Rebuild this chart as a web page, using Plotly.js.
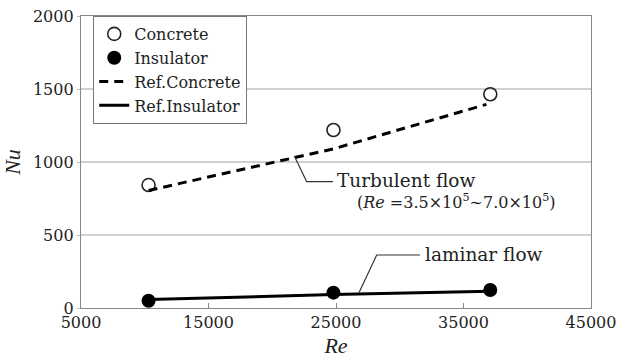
<!DOCTYPE html>
<html><head><meta charset="utf-8">
<script src="https://cdn.plot.ly/plotly-3.0.1.min.js"></script>
<style>html,body{margin:0;padding:0;background:#fff}#chart{width:625px;height:364px}</style>
</head><body><div id="chart"></div>
<script>
const reConcrete = [10300, 24800, 37100];
const nuConcrete = [842, 1219, 1464];
const reInsulator = [10300, 24800, 37100];
const nuInsulator = [50, 105, 123];
const reRefConcrete = [10300, 24800, 36800];
const nuRefConcrete = [805, 1090, 1395];
const reRefInsulator = [10300, 24800, 37100];
const nuRefInsulator = [58, 92, 115];
const xTicks = [5000, 15000, 25000, 35000, 45000];
const yTicks = [0, 500, 1000, 1500, 2000];

const F = 'DejaVu Serif';
const FT = 'Liberation Serif';
const traces = [
  {x: reConcrete, y: nuConcrete, name: 'Concrete', mode: 'markers', type: 'scatter',
   marker: {symbol: 'circle-open', size: 13, color: '#222', line: {width: 1.6, color: '#222'}}},
  {x: reInsulator, y: nuInsulator, name: 'Insulator', mode: 'markers', type: 'scatter',
   marker: {symbol: 'circle', size: 14, color: '#000'}},
  {x: reRefConcrete, y: nuRefConcrete, name: 'Ref.Concrete', mode: 'lines', type: 'scatter',
   line: {color: '#000', width: 3, dash: '9px,6px'}},
  {x: reRefInsulator, y: nuRefInsulator, name: 'Ref.Insulator', mode: 'lines', type: 'scatter',
   line: {color: '#000', width: 3}}
];
const layout = {
  width: 625, height: 364,
  margin: {l: 81, r: 34, t: 16, b: 56},
  paper_bgcolor: '#fff', plot_bgcolor: '#fff',
  font: {family: F, size: 16, color: '#222'},
  showlegend: true,
  legend: {x: 0.024, y: 1.0, xanchor: 'left', yanchor: 'top', bgcolor: '#fff',
    bordercolor: '#777', borderwidth: 1, font: {family: F, size: 16, color: '#222'},
    itemwidth: 30, tracegroupgap: 0},
  xaxis: {range: [5000, 45000], tickvals: xTicks, ticktext: xTicks.map(String),
    tickfont: {family: F, size: 16, color: '#222'},
    showgrid: false, zeroline: false, showline: true, mirror: true, linecolor: '#888', linewidth: 1.2,
    ticks: 'inside', ticklen: 5, tickcolor: '#888',
    title: {text: '<i>Re</i>', font: {family: FT, size: 22, color: '#222'}, standoff: 6}},
  yaxis: {range: [0, 2000], tickvals: yTicks, ticktext: yTicks.map(String),
    tickfont: {family: F, size: 16, color: '#222'},
    showgrid: true, gridcolor: '#d0d0d0', gridwidth: 1.2, zeroline: false,
    showline: true, mirror: true, linecolor: '#888', linewidth: 1.2,
    ticks: 'outside', ticklen: 3, tickcolor: '#bbb',
    title: {text: '<i>Nu</i>', font: {family: FT, size: 22, color: '#222'}, standoff: 8}},
  shapes: [
    {type: 'path', xref: 'x', yref: 'y', path: 'M 21730 1041 L 22700 865 L 24765 865',
     line: {color: '#333', width: 1.2}},
    {type: 'path', xref: 'x', yref: 'y', path: 'M 26800 105 L 28190 363 L 31590 363',
     line: {color: '#333', width: 1.2}}
  ],
  annotations: [
    {x: 24900, y: 870, xref: 'x', yref: 'y', xanchor: 'left', yanchor: 'middle', showarrow: false,
     text: 'Turbulent flow', font: {family: F, size: 18.5, color: '#222'}},
    {x: 26500, y: 730, xref: 'x', yref: 'y', xanchor: 'left', yanchor: 'middle', showarrow: false,
     text: '(<i>Re</i> =3.5×10<sup>5</sup>∼7.0×10<sup>5</sup>)', font: {family: F, size: 16, color: '#222'}},
    {x: 31800, y: 368, xref: 'x', yref: 'y', xanchor: 'left', yanchor: 'middle', showarrow: false,
     text: 'laminar flow', font: {family: F, size: 18.5, color: '#222'}}
  ]
};
Plotly.newPlot('chart', traces, layout, {displayModeBar: false, staticPlot: true});
</script></body></html>
